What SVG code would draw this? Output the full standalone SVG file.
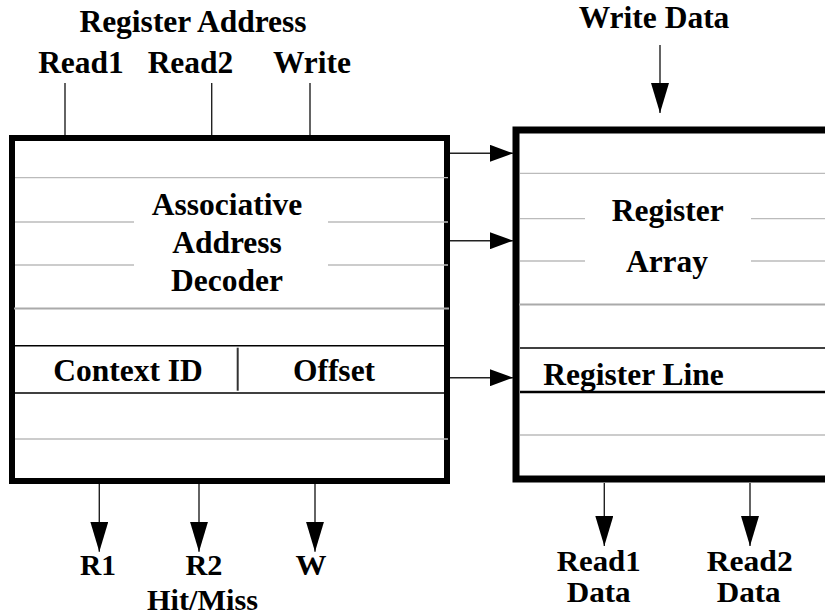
<svg xmlns="http://www.w3.org/2000/svg" width="825" height="616" viewBox="0 0 825 616">
<style>
text{font-family:"Liberation Serif","Times New Roman",serif;font-weight:bold;font-size:31.5px;fill:#000;text-anchor:middle}
.s{font-size:29.5px}
.box{fill:#fff;stroke:#000}
.g{stroke:#bbb;stroke-width:1.3;fill:none}
.g2{stroke:#aaa;stroke-width:2.2;fill:none}
.k{stroke:#000;stroke-width:1.6;fill:none}
.c{stroke:#222;stroke-width:1.4;fill:none}
</style>
<defs>
<marker id="av" markerUnits="userSpaceOnUse" markerWidth="18" markerHeight="30" refX="9" refY="30" orient="0"><path d="M0,0 L9,30 L18,0 z" fill="#000"/></marker>
<marker id="ah" markerUnits="userSpaceOnUse" markerWidth="23" markerHeight="17" refX="23" refY="8.5" orient="0"><path d="M0,0 L23,8.5 L0,17 z" fill="#000"/></marker>
</defs>
<g id="labels-top">
<text x="193" y="32">Register Address</text>
<text x="81" y="73">Read1</text>
<text x="190.5" y="73">Read2</text>
<text x="312" y="73">Write</text>
<text x="654" y="28">Write Data</text>
</g>
<g id="decoder">
<rect class="box" x="12" y="138" width="435" height="343" stroke-width="6"/>
<line class="g" x1="15" y1="177.7" x2="448" y2="177.7"/>
<line class="g" x1="15" y1="222" x2="134" y2="222"/>
<line class="g" x1="328" y1="222" x2="448" y2="222"/>
<line class="g" x1="15" y1="265" x2="134" y2="265"/>
<line class="g" x1="328" y1="265" x2="448" y2="265"/>
<line class="g2" x1="14" y1="308.5" x2="449" y2="308.5"/>
<line class="k" x1="15" y1="345.7" x2="444" y2="345.7"/>
<line class="k" x1="15" y1="393" x2="444" y2="393"/>
<line class="g" x1="15" y1="439" x2="448" y2="439"/>
<line x1="237.7" y1="347.7" x2="237.7" y2="390.7" stroke="#333" stroke-width="2"/>
<text x="227" y="215">Associative</text>
<text x="227" y="253">Address</text>
<text x="227" y="291">Decoder</text>
<text x="128" y="381">Context ID</text>
<text x="334" y="381">Offset</text>
</g>
<g id="register-array">
<rect class="box" x="516" y="130" width="400" height="349" stroke-width="7"/>
<line class="g" x1="520" y1="173.3" x2="825" y2="173.3"/>
<line class="g" x1="520" y1="218.7" x2="585" y2="218.7"/>
<line class="g" x1="751" y1="218.7" x2="825" y2="218.7"/>
<line class="g" x1="520" y1="261" x2="585" y2="261"/>
<line class="g" x1="751" y1="261" x2="825" y2="261"/>
<line class="g2" x1="519" y1="304.5" x2="825" y2="304.5"/>
<line class="k" x1="520" y1="348" x2="825" y2="348"/>
<line x1="520" y1="392" x2="825" y2="392" stroke="#000" stroke-width="2.6"/>
<line class="g" x1="520" y1="435" x2="825" y2="435"/>
<text x="667.7" y="221">Register</text>
<text x="667" y="272">Array</text>
<text x="543.3" y="385" style="text-anchor:start">Register Line</text>
</g>
<g id="connectors">
<line class="c" x1="65" y1="83" x2="65" y2="135"/>
<line class="c" x1="211.7" y1="83" x2="211.7" y2="135"/>
<line class="c" x1="310" y1="83" x2="310" y2="135"/>
<line class="c" x1="660" y1="45" x2="660" y2="113" marker-end="url(#av)"/>
<line class="c" x1="450" y1="153.3" x2="513" y2="153.3" marker-end="url(#ah)"/>
<line class="c" x1="450" y1="240.7" x2="513" y2="240.7" marker-end="url(#ah)"/>
<line class="c" x1="450" y1="377.7" x2="513" y2="377.7" marker-end="url(#ah)"/>
<line class="c" x1="99.3" y1="484" x2="99.3" y2="551.7" marker-end="url(#av)"/>
<line class="c" x1="199" y1="484" x2="199" y2="551.7" marker-end="url(#av)"/>
<line class="c" x1="315" y1="484" x2="315" y2="551.7" marker-end="url(#av)"/>
<line class="c" x1="604.3" y1="483" x2="604.3" y2="546" marker-end="url(#av)"/>
<line class="c" x1="750" y1="483" x2="750" y2="546" marker-end="url(#av)"/>
</g>
<g id="labels-bottom">
<text class="s" x="98" y="575" textLength="36" lengthAdjust="spacingAndGlyphs">R1</text>
<text class="s" x="204" y="575" textLength="37" lengthAdjust="spacingAndGlyphs">R2</text>
<text class="s" x="311" y="575" textLength="31" lengthAdjust="spacingAndGlyphs">W</text>
<text class="s" x="202.5" y="610" textLength="111" lengthAdjust="spacingAndGlyphs">Hit/Miss</text>
<text class="s" x="598.7" y="571" textLength="84" lengthAdjust="spacingAndGlyphs">Read1</text>
<text class="s" x="598.7" y="602" textLength="64" lengthAdjust="spacingAndGlyphs">Data</text>
<text class="s" x="749.7" y="571" textLength="86" lengthAdjust="spacingAndGlyphs">Read2</text>
<text class="s" x="748.7" y="602" textLength="64" lengthAdjust="spacingAndGlyphs">Data</text>
</g>
</svg>
